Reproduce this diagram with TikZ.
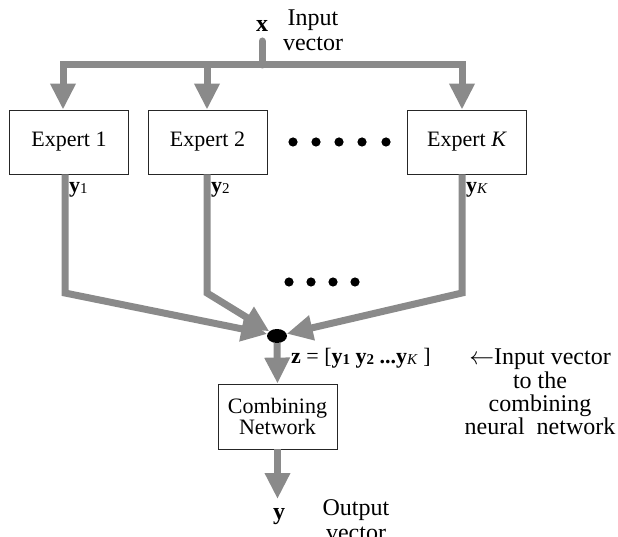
\documentclass[tikz,border=0pt]{standalone}
\usepackage{fontspec}
\setmainfont{Liberation Serif}
\usetikzlibrary{arrows.meta,shapes.geometric}
\definecolor{pipegray}{RGB}{138,138,138}
% small subscript used in the vector labels
\newcommand{\vsub}[1]{\raisebox{-1pt}{\fontsize{15}{15}\selectfont #1}}
\tikzset{
  pipe/.style={draw=pipegray, line width=7pt},
  arr/.style={pipe, -{Triangle[width=24pt,length=26pt]}},
  box/.style={draw=black!85, line width=0.8pt, fill=white,
    minimum width=119pt, minimum height=64pt, inner sep=0pt,
    font=\fontsize{22}{21}\selectfont},
  lbl/.style={inner sep=0pt, font=\fontsize{24}{25}\selectfont},
  vlbl/.style={inner sep=0pt, anchor=west, font=\fontsize{22}{22}\selectfont},
  dotmark/.style={fill=black},
}
\begin{document}
\begin{tikzpicture}[x=1pt,y=-1pt]
\useasboundingbox (0,0) rectangle (618,537);

% input
\node[lbl, font=\bfseries\fontsize{24}{24}\selectfont] (xin) at (262,26) {x};
\node[lbl, align=center] (inlbl) at (313,30) {Input\\vector};
\coordinate (xs) at (262,41);
\coordinate (bx) at (262,65);
\coordinate (b1) at (63,65);
\coordinate (b2) at (207,65);
\coordinate (bK) at (462,65);

% experts
\node[box] (e1) at (69,142) {Expert 1};
\node[box] (e2) at (207.5,142) {Expert 2};
\node[box] (eK) at (467,142) {Expert \textit{K}};
\foreach \px in {293,316,339,362,386} \fill[dotmark] (\px,142) circle (4.6);

% distribution of the input
\draw[pipe, line cap=round] (xs) -- (bx);
\draw[pipe, line cap=rect] (b1) -- (bK);
\draw[arr] (b1) -- (b1 |- e1.north);
\draw[arr] (b2) -- (b2 |- e2.north);
\draw[arr] (bK) -- (bK |- eK.north);

% expert outputs
\node[vlbl] (y1) at (69,190) {\textbf{y}\vsub{1}};
\node[vlbl] (y2) at (211,190) {\textbf{y}\vsub{2}};
\node[vlbl] (yK) at (466,190) {\textbf{y}\vsub{\textit{K}}};
\foreach \px in {289,311,333,355} \fill[dotmark] (\px,282) circle (4.6);

\node[ellipse, fill=black, minimum width=20pt, minimum height=14pt, inner sep=0pt] (z) at (277,336) {};
\coordinate (k1) at (65,293);
\coordinate (k2) at (207,293);
\coordinate (kK) at (462,293);
\draw[arr] (e1.south -| k1) -- (k1) -- (z);
\draw[arr] (e2.south -| k2) -- (k2) -- (z);
\draw[arr] (eK.south -| kK) -- (kK) -- (z);

% combining network
\node[box, align=center, minimum height=65pt] (comb) at (277.5,416.5) {Combining\\Network};
\draw[arr] (z.south) -- (comb.north);
\node[vlbl] (zl) at (291,358) {\textbf{z} = [\textbf{y\vsub{1} y\vsub{2} ...y}\vsub{\textit{K}} ]};
\node[lbl, align=center, font=\fontsize{24}{23.3}\selectfont] (note) at (540,392)
  {$\leftarrow$Input vector\\to the\\combining\\neural\ \ network};

% output
\coordinate (yend) at (278,499);
\draw[arr] (comb.south) -- (comb.south |- yend);
\node[lbl, font=\bfseries\fontsize{24}{24}\selectfont] (yout) at (279,517) {y};
\node[lbl, align=center] (outlbl) at (356,520) {Output\\vector};
\end{tikzpicture}
\end{document}
